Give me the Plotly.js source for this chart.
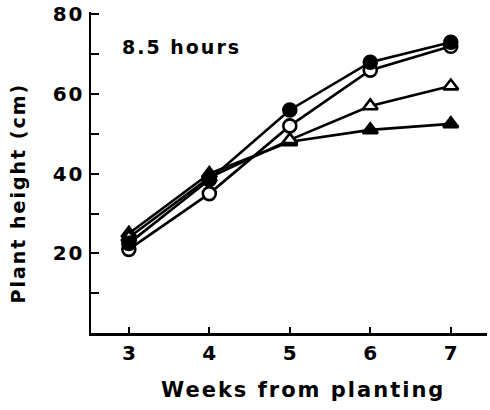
<!DOCTYPE html>
<html>
<head>
<meta charset="utf-8">
<script src="https://cdn.plot.ly/plotly-3.0.1.min.js"></script>
<style>
html,body{margin:0;padding:0;background:#fff;}
#chart{width:490px;height:410px;}
#chart .annotation-text{letter-spacing:2px;}
#chart .ytick text{letter-spacing:2px;}
</style>
</head>
<body>
<div id="chart"></div>
<script>
const weeks = [3, 4, 5, 6, 7];
const filledCircle = [22.5, 38.5, 56, 68, 73];
const openCircle = [21, 35, 52, 66, 72];
const openTriangle = [24, 39, 48.5, 57, 62];
const filledTriangle = [25, 40, 48, 51, 52.5];
const yTickVals = [10, 20, 30, 40, 50, 60, 70, 80];
const yTickText = ['', '20', '', '40', '', '60', '', '80'];
const xTickVals = [3, 4, 5, 6, 7];
const xTickText = ['3', '4', '5', '6', '7'];
const xTitle = 'Weeks from planting';
const yTitle = 'Plant height (cm)';
const panelLabel = '8.5 hours';

const FONT = 'DejaVu Sans';
function series(y, symbol, fill) {
  return {
    x: weeks, y: y, type: 'scatter', mode: 'lines+markers',
    line: {color: '#000', width: 2.6},
    marker: {symbol: symbol, size: 13, color: fill,
             line: {color: '#000', width: 2.6}},
    cliponaxis: false, showlegend: false
  };
}
const data = [
  series(filledTriangle, 'triangle-up', '#000'),
  series(openTriangle, 'triangle-up', '#fff'),
  series(openCircle, 'circle', '#fff'),
  series(filledCircle, 'circle', '#000')
];
const layout = {
  width: 490, height: 410,
  margin: {l: 91, r: 3, t: 12, b: 77},
  paper_bgcolor: '#fff', plot_bgcolor: '#fff',
  font: {family: FONT, color: '#000', size: 19, weight: 'bold'},
  xaxis: {
    range: [2.53, 7.45], showline: true, linewidth: 2.5, linecolor: '#000',
    ticks: 'inside', ticklen: 6, tickwidth: 2, tickcolor: '#000',
    tickvals: xTickVals, ticktext: xTickText, showgrid: false, zeroline: false,
    tickfont: {family: FONT, size: 20, weight: 'bold'}
  },
  yaxis: {
    range: [0, 80.6], showline: true, linewidth: 2.5, linecolor: '#000',
    ticks: 'inside', ticklen: 8, tickwidth: 2, tickcolor: '#000',
    tickvals: yTickVals, ticktext: yTickText, showgrid: false, zeroline: false,
    tickfont: {family: FONT, size: 20, weight: 'bold'}
  },
  annotations: [
    {text: panelLabel, xref: 'paper', yref: 'paper', x: 0.096, y: 0.891,
     xanchor: 'left', yanchor: 'middle', showarrow: false,
     font: {family: FONT, size: 19, weight: 'bold', color: '#000'}},
    {text: xTitle, xref: 'paper', yref: 'paper', x: 0.535, y: -0.178,
     xanchor: 'center', yanchor: 'middle', showarrow: false,
     font: {family: FONT, size: 21, weight: 'bold', color: '#000'}},
    {text: yTitle, xref: 'paper', yref: 'paper', x: -0.184, y: 0.435, textangle: -90,
     xanchor: 'center', yanchor: 'middle', showarrow: false,
     font: {family: FONT, size: 19, weight: 'bold', color: '#000'}}
  ]
};
Plotly.newPlot('chart', data, layout, {displayModeBar: false, staticPlot: true});
</script>
</body>
</html>
